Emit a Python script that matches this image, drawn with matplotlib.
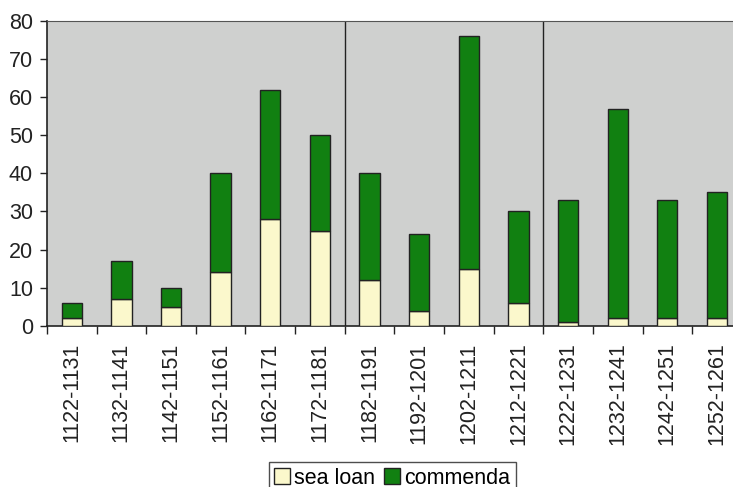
import numpy as np
import matplotlib.pyplot as plt

# Dane
okresy = ['1122-1131', '1132-1141', '1142-1151', '1152-1161', '1162-1171',
          '1172-1181', '1182-1191', '1192-1201', '1202-1211', '1212-1221',
          '1222-1231', '1232-1241', '1242-1251', '1252-1261']
sea_loan = [2, 7, 5, 14, 28, 25, 12, 4, 15, 6, 1, 2, 2, 2]
commenda = [4, 10, 5, 26, 34, 25, 28, 20, 61, 24, 32, 55, 31, 33]
granice = [5.5, 9.5]

plt.rcParams['font.family'] = ['Liberation Sans', 'DejaVu Sans']
fs = 15.5

fig = plt.figure(figsize=(7.33, 4.87), dpi=100)
ax = fig.add_axes([0.064, 0.331, 0.95, 0.626])
ax.set_facecolor('#cfd0cf')

x = np.arange(len(okresy))
w = 0.41
ax.bar(x, sea_loan, w, color='#fbf8cc', edgecolor='#222222', linewidth=1.0,
       label='sea loan', zorder=3)
ax.bar(x, commenda, w, bottom=sea_loan, color='#118011', edgecolor='#222222',
       linewidth=1.0, label='commenda', zorder=3)

# Linie podziału okresów
for g in granice:
    ax.axvline(g, color='#222222', linewidth=1.0, zorder=2)

ax.set_xlim(-0.5, len(okresy) - 0.5 + 0.03)
ax.set_ylim(0, 80)
ax.set_yticks(range(0, 81, 10))
ax.tick_params(axis='y', labelsize=fs, length=5, width=1, colors='#222222', pad=5)

ax.set_xticks(x)
ax.set_xticklabels(okresy, rotation=90, fontsize=fs, color='#222222')
ax.tick_params(axis='x', length=0, pad=12)
ax.set_xticks(np.arange(-0.5, len(okresy)), minor=True)
ax.tick_params(axis='x', which='minor', length=6, width=1, color='#222222')

for s in ['left', 'bottom']:
    ax.spines[s].set_color('#222222')
    ax.spines[s].set_linewidth(1.2)
ax.spines['top'].set_color('#555555')
ax.spines['right'].set_visible(False)

leg = fig.legend(loc='upper center', bbox_to_anchor=(0.535, 0.051), ncol=2,
                 fontsize=fs, frameon=True, fancybox=False, edgecolor='#222222',
                 handlelength=0.75, handleheight=0.75, handletextpad=0.2,
                 columnspacing=0.4, borderpad=0.25, borderaxespad=0)
leg.get_frame().set_linewidth(1.0)

fig.savefig('out.png', dpi=100)
